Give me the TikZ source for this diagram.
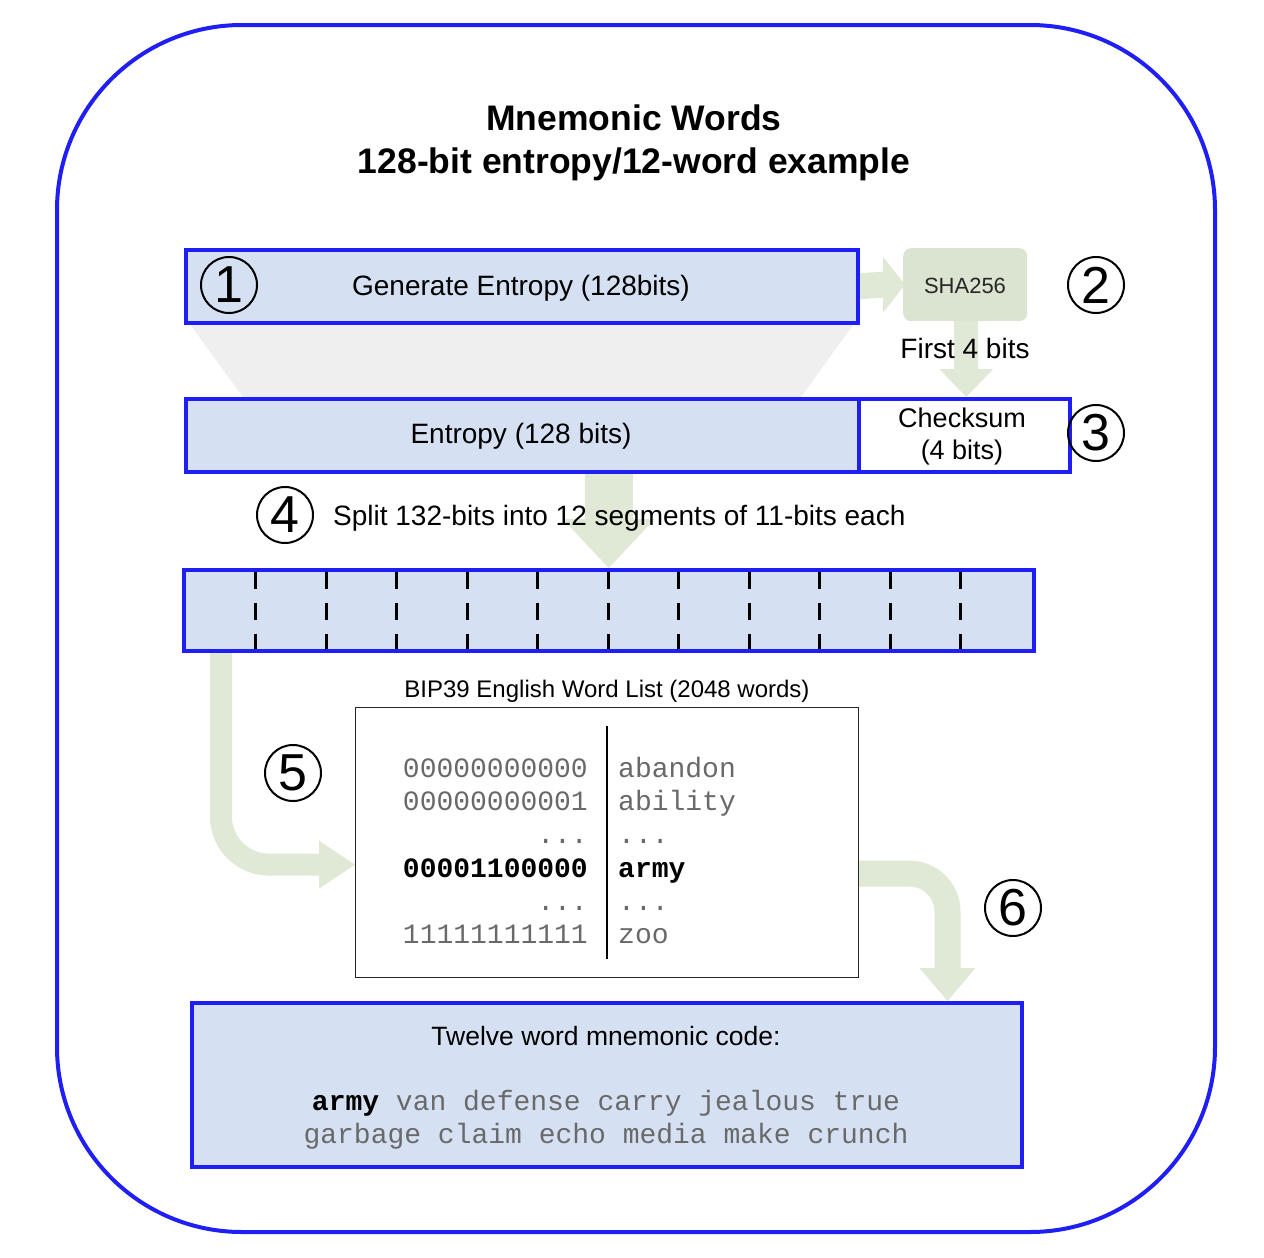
\documentclass[tikz,border=0pt]{standalone}
\usepackage{fontspec}
\setmainfont{Liberation Sans}
\newfontfamily\monof{Liberation Mono}
\usetikzlibrary{calc}
\pgfdeclarelayer{background}
\pgfsetlayers{background,main}
\definecolor{frameblue}{RGB}{30,30,245}
\definecolor{boxfill}{RGB}{213,225,242}
\definecolor{arrowgreen}{RGB}{223,233,213}
\definecolor{shagreen}{RGB}{218,228,208}
\definecolor{funnelgray}{RGB}{240,239,239}
\definecolor{monogray}{RGB}{105,105,105}
\begin{document}
\begin{tikzpicture}[x=1pt,y=-1pt,
  bluebox/.style={draw=frameblue, line width=3.5pt, fill=boxfill, inner sep=0pt, anchor=north west},
  numcirc/.style={circle, draw=black, line width=2pt, minimum size=56pt, inner sep=0pt, font=\fontsize{52}{52}\selectfont},
  lbl/.style={inner sep=0pt, anchor=base},
  txt/.style={lbl, font=\fontsize{28}{32}\selectfont},
  mono/.style={inner sep=0pt, font=\monof\fontsize{28}{32}\selectfont, text=monogray},
  fatarrow/.style={fill=arrowgreen, draw=none},
  divider/.style={draw=black, line width=3pt, dash pattern=on 17pt off 14pt}
]
\useasboundingbox (0,0) rectangle (1264,1258);

% outer frame
\node[draw=frameblue, line width=4pt, rounded corners=185pt, minimum width=1158pt, minimum height=1207pt, inner sep=0pt, anchor=north west] (frame) at (55,23) {};

% title
\node[lbl, font=\fontsize{35.5}{40}\selectfont\bfseries] (title1) at (634,130) {Mnemonic Words};
\node[lbl, font=\fontsize{35.5}{40}\selectfont\bfseries] (title2) at (634,173) {128-bit entropy/12-word example};

% boxes
\node[bluebox, minimum width=672pt, minimum height=73pt] (gen) at (184,248) {};
\node[txt] (gentext) at (521,295) {Generate Entropy (128bits)};
\node[anchor=north west, fill=shagreen, rounded corners=8pt, minimum width=124pt, minimum height=73pt, inner sep=0pt] (sha) at (903,248) {};
\node[lbl, font=\fontsize{22}{26}\selectfont, text=black!85] (shatext) at (965,293) {SHA256};
\node[txt] (first4) at (965,358) {First 4 bits};

\node[bluebox, minimum width=673pt, minimum height=73pt] (ent) at (184,397) {};
\node[txt] (enttext) at (521,443) {Entropy (128 bits)};
\node[bluebox, fill=white, minimum width=211pt, minimum height=73pt] (chk) at (857,397) {};
\node[lbl, font=\fontsize{27}{32}\selectfont] (chk1) at (962,427) {Checksum};
\node[lbl, font=\fontsize{27}{32}\selectfont] (chk2) at (962,459) {(4 bits)};

\node[lbl, anchor=base west, font=\fontsize{28}{32}\selectfont] (split) at (333,525) {Split 132-bits into 12 segments of 11-bits each};

\node[bluebox, minimum width=850pt, minimum height=81pt] (seg) at (182,568) {};
\foreach \i in {1,...,11}
  \draw[divider] ($(seg.north west)+(73.75+70.5*\i-70.5,3.75)$) -- ($(seg.south west)+(73.75+70.5*\i-70.5,-3.75)$);

\node[lbl, font=\fontsize{24}{28}\selectfont] (bip) at (607,697) {BIP39 English Word List (2048 words)};
\node[draw=black!85, line width=1.2pt, fill=white, anchor=north west, minimum width=503pt, minimum height=270pt, inner sep=0pt] (list) at (355,707) {};
\draw[black, line width=1.5pt] ($(list.north)+(0,19)$) -- ($(list.south)+(0,-19)$);

\node[mono, anchor=base east] (b1) at (588,777) {00000000000};
\node[mono, anchor=base east] (b2) at (588,810) {00000000001};
\node[mono, anchor=base east] (b3) at (588,843) {...};
\node[mono, anchor=base east, text=black] (b4) at (588,877) {\bfseries 00001100000};
\node[mono, anchor=base east] (b5) at (588,910) {...};
\node[mono, anchor=base east] (b6) at (588,943) {11111111111};
\node[mono, anchor=base west] (w1) at (618,777) {abandon};
\node[mono, anchor=base west] (w2) at (618,810) {ability};
\node[mono, anchor=base west] (w3) at (618,843) {...};
\node[mono, anchor=base west, text=black] (w4) at (618,877) {\bfseries army};
\node[mono, anchor=base west] (w5) at (618,910) {...};
\node[mono, anchor=base west] (w6) at (618,943) {zoo};

\node[bluebox, minimum width=830pt, minimum height=164pt] (mnem) at (190,1001) {};
\node[lbl, font=\fontsize{26.5}{30}\selectfont] (twelve) at (606,1045) {Twelve word mnemonic code:};
\node[mono, anchor=base] (m1) at (606,1110) {\textcolor{black}{\bfseries army} van defense carry jealous true};
\node[mono, anchor=base] (m2) at (606,1143) {garbage claim echo media make crunch};

% circled numbers
\node[numcirc] (c1) at (229,285) {1};
\node[numcirc] (c2) at (1096,285) {2};
\node[numcirc] (c3) at (1096,433) {3};
\node[numcirc] (c4) at (285,515) {4};
\node[numcirc] (c5) at (293,773) {5};
\node[numcirc] (c6) at (1013,908) {6};

\begin{pgfonlayer}{background}
  % funnel
  \fill[funnelgray] ($(gen.south west)+(6,0)$) -- ($(gen.south east)+(-6,0)$) -- ($(ent.north west)+(617,0)$) -- ($(ent.north west)+(59,0)$) -- cycle;
  % arrow gen -> sha
  \fill[fatarrow] ($(gen.east)+(-2,-13)$) -- ($(sha.west)+(-20,-13)$) -- ($(sha.west)+(-20,-28)$) -- ($(sha.west)+(2,0)$) -- ($(sha.west)+(-20,28)$) -- ($(sha.west)+(-20,13)$) -- ($(gen.east)+(-2,13)$) -- cycle;
  % arrow sha -> checksum
  \coordinate (bt) at ($(sha.south |- chk.north)+(1,0)$);
  \fill[fatarrow] ($(sha.south)+(-11,-2)$) -- ($(sha.south)+(13,-2)$) -- ($(bt)+(12,-28)$) -- ($(bt)+(27,-28)$) -- (bt) -- ($(bt)+(-27,-28)$) -- ($(bt)+(-12,-28)$) -- cycle;
  % arrow entropy -> segments
  \coordinate (ct) at (seg.north);
  \coordinate (cs) at (seg.north |- ent.south);
  \fill[fatarrow] ($(cs)+(-24,-2)$) -- ($(cs)+(24,-2)$) -- ($(ct)+(24,-49)$) -- ($(ct)+(46,-49)$) -- (ct) -- ($(ct)+(-46,-49)$) -- ($(ct)+(-24,-49)$) -- cycle;
  % arrow segments -> word list
  \coordinate (d0) at ($(seg.south west)+(39,-3)$);
  \coordinate (d1) at ($(list.west)+(-36,22)$);
  \draw[arrowgreen, line width=22pt, rounded corners=48pt] (d0) |- (d1);
  \fill[fatarrow] ($(d1)+(0,-24)$) -- (list.west |- d1) -- ($(d1)+(0,24)$) -- cycle;
  % arrow word list -> mnemonic
  \coordinate (e0) at ($(list.east)+(-2,31)$);
  \coordinate (e1) at ($(mnem.north east)+(-76,-33)$);
  \draw[arrowgreen, line width=26pt, rounded corners=38pt] (e0) -| (e1);
  \fill[fatarrow] ($(e1)+(-28,0)$) -- (e1 |- mnem.north) -- ($(e1)+(28,0)$) -- cycle;
\end{pgfonlayer}
\end{tikzpicture}
\end{document}
